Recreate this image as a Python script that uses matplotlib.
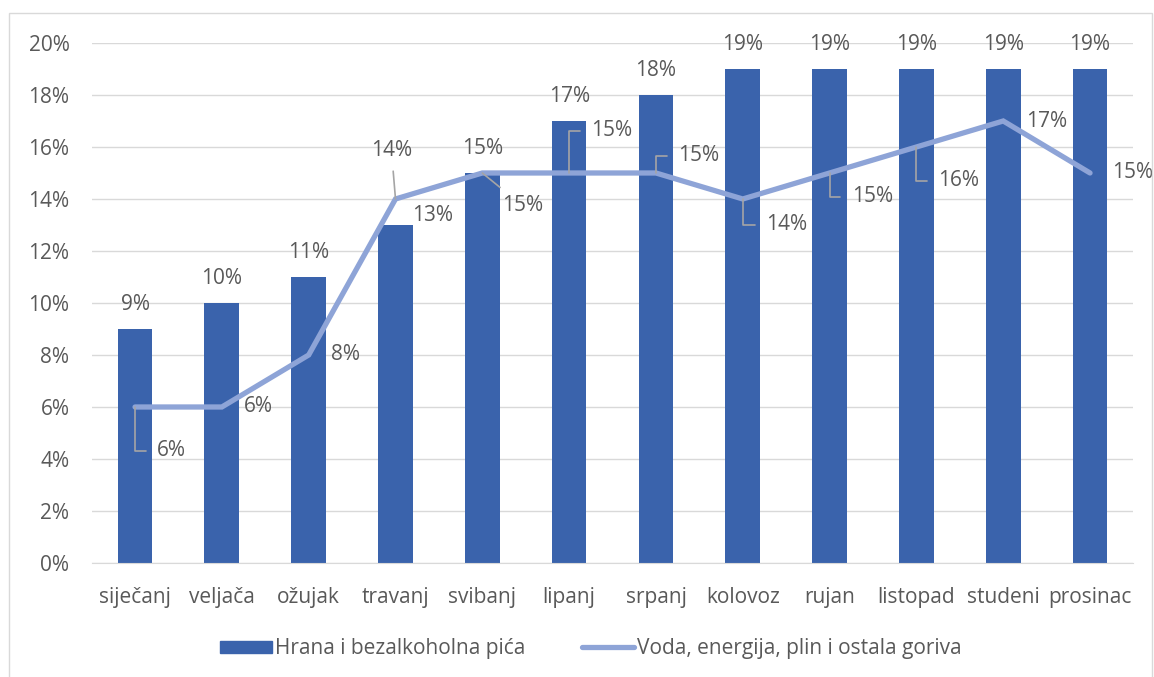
import matplotlib
matplotlib.use("Agg")
import matplotlib.pyplot as plt
from matplotlib.patches import Rectangle
from matplotlib.lines import Line2D
from matplotlib.ticker import FuncFormatter

months = ["siječanj", "veljača", "ožujak", "travanj", "svibanj", "lipanj",
          "srpanj", "kolovoz", "rujan", "listopad", "studeni", "prosinac"]
food = [9, 10, 11, 13, 15, 17, 18, 19, 19, 19, 19, 19]
energy = [6, 6, 8, 14, 15, 15, 15, 14, 15, 16, 17, 15]
series_names = ["Hrana i bezalkoholna pića", "Voda, energija, plin i ostala goriva"]

# label offsets in pixels (label anchor relative to the data point)
line_label_offsets = [(22, -44), (22, 0), (22, 0), (-4, 48), (20, -33), (22, 42),
                      (22, 17), (23, -26), (22, -24), (22, -34), (23, -1), (22, 0)]
leader = ["angle", None, None, "up", "straight", "angle", "angle", "angle",
          "angle", "angle", None, None]

FS = 15
plt.rcParams['font.family'] = ['Open Sans', 'DejaVu Sans']
txt_color = "#595959"
bar_color = "#3A63AC"
line_color = "#8EA4D7"
P = 0.72  # points per pixel at 100 dpi

fig = plt.figure(figsize=(11.54, 6.77), dpi=100)
fig.patches.append(Rectangle((0.0078, -0.01), 0.9905, 0.9908, transform=fig.transFigure,
                             fill=False, edgecolor="#D9D9D9", linewidth=1))
ax = fig.add_axes([0.0794, 0.1684, 0.9028, 0.7681])

x = list(range(len(months)))
ax.bar(x, food, width=0.40, color=bar_color, zorder=2)
ax.plot(x, energy, color=line_color, linewidth=3.8, zorder=3,
        solid_capstyle='round', solid_joinstyle='miter')

ax.set_xlim(-0.5, len(months) - 0.5)
ax.set_ylim(0, 20)
ax.set_yticks(range(0, 21, 2))
ax.yaxis.set_major_formatter(FuncFormatter(lambda v, p: f"{int(v)}%"))
ax.set_xticks(x)
ax.set_xticklabels(months)
ax.tick_params(axis='both', length=0, labelsize=FS, labelcolor=txt_color)
ax.tick_params(axis='x', pad=17)
ax.tick_params(axis='y', pad=16)
ax.grid(axis='y', color="#D9D9D9", linewidth=1, zorder=0)
for s in ["top", "right", "left"]:
    ax.spines[s].set_visible(False)
ax.spines["bottom"].set_color("#D9D9D9")
ax.set_axisbelow(True)

for xi, v in zip(x, food):
    if v == 13:
        # label shifted to the right of the bar (as in the original)
        ax.annotate(f"{v}%", (xi, v), xytext=(37 * P, 9 * P), textcoords="offset points",
                    ha="center", va="center", fontsize=FS, color=txt_color)
        continue
    ax.annotate(f"{v}%", (xi, v), xytext=(0, 24 * P), textcoords="offset points",
                ha="center", va="center", fontsize=FS, color=txt_color)

for xi, v, (dx, dy), ld in zip(x, energy, line_label_offsets, leader):
    kw = {}
    ha = "left"
    if ld == "angle":
        kw["arrowprops"] = dict(arrowstyle='-', color="#A5A5A5", lw=1.2,
                                connectionstyle="angle,angleA=0,angleB=90,rad=0",
                                shrinkA=6, shrinkB=0)
    elif ld == "straight":
        kw["arrowprops"] = dict(arrowstyle='-', color="#A5A5A5", lw=1.2,
                                shrinkA=6, shrinkB=0)
    elif ld == "up":
        ha = "center"
        kw["arrowprops"] = dict(arrowstyle='-', color="#A5A5A5", lw=1.2,
                                shrinkA=5, shrinkB=0)
    ax.annotate(f"{v}%", (xi, v), xytext=(dx * P, dy * P), textcoords="offset points",
                ha=ha, va="center", fontsize=FS, color=txt_color, **kw)

handles = [Rectangle((0, 0), 1, 1, color=bar_color),
           Line2D([0], [0], color=line_color, linewidth=3.8, solid_capstyle='round')]
fig.legend(handles, series_names, loc="center", bbox_to_anchor=(0.512, 0.042), ncol=2,
           frameon=False, fontsize=FS, labelcolor=txt_color, handlelength=2.5,
           handleheight=0.5, columnspacing=2.7, handletextpad=0.15)

fig.savefig("out.png", dpi=100)
